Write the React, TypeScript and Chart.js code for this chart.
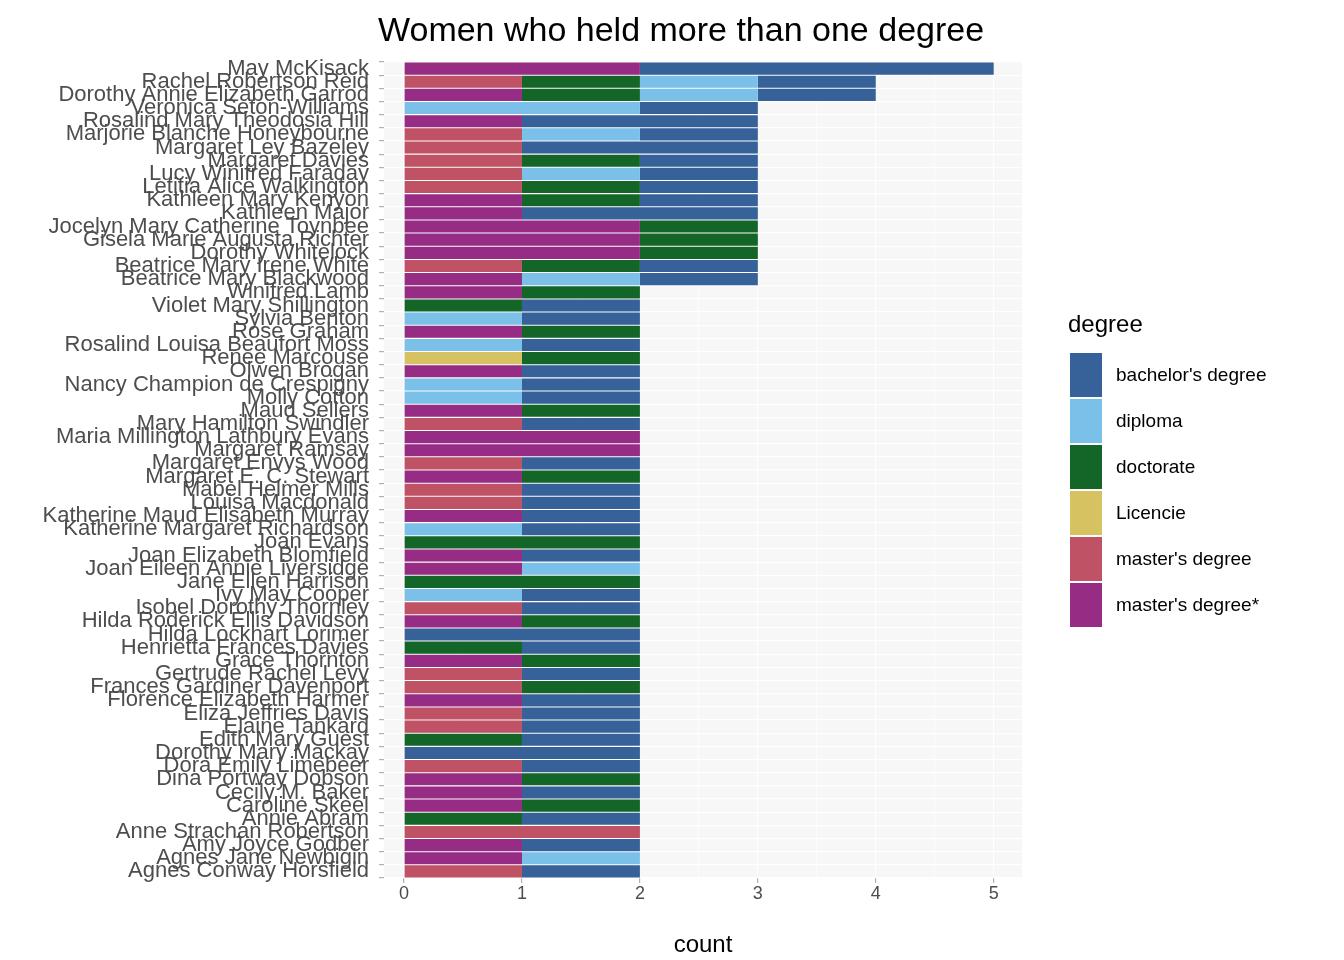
import { useEffect, useRef } from 'react';
import Chart from 'chart.js/auto';

const names = [
  'May McKisack', 'Rachel Robertson Reid', 'Dorothy Annie Elizabeth Garrod', 'Veronica Seton-Williams',
  'Rosalind Mary Theodosia Hill', 'Marjorie Blanche Honeybourne', 'Margaret Ley Bazeley', 'Margaret Davies',
  'Lucy Winifred Faraday', 'Letitia Alice Walkington', 'Kathleen Mary Kenyon', 'Kathleen Major',
  'Jocelyn Mary Catherine Toynbee', 'Gisela Marie Augusta Richter', 'Dorothy Whitelock', 'Beatrice Mary Irene White',
  'Beatrice Mary Blackwood', 'Winifred Lamb', 'Violet Mary Shillington', 'Sylvia Benton', 'Rose Graham',
  'Rosalind Louisa Beaufort Moss', 'Renee Marcouse', 'Olwen Brogan', 'Nancy Champion de Crespigny', 'Molly Cotton',
  'Maud Sellers', 'Mary Hamilton Swindler', 'Maria Millington Lathbury Evans', 'Margaret Ramsay',
  'Margaret Envys Wood', 'Margaret E. C. Stewart', 'Mabel Helmer Mills', 'Louisa Macdonald',
  'Katherine Maud Elisabeth Murray', 'Katherine Margaret Richardson', 'Joan Evans', 'Joan Elizabeth Blomfield',
  'Joan Eileen Annie Liversidge', 'Jane Ellen Harrison', 'Ivy May Cooper', 'Isobel Dorothy Thornley',
  'Hilda Roderick Ellis Davidson', 'Hilda Lockhart Lorimer', 'Henrietta Frances Davies', 'Grace Thornton',
  'Gertrude Rachel Levy', 'Frances Gardiner Davenport', 'Florence Elizabeth Harmer', 'Eliza Jeffries Davis',
  'Elaine Tankard', 'Edith Mary Guest', 'Dorothy Mary Mackay', 'Dora Emily Limebeer', 'Dina Portway Dobson',
  'Cecily M. Baker', 'Caroline Skeel', 'Annie Abram', 'Anne Strachan Robertson', 'Amy Joyce Godber',
  'Agnes Jane Newbigin', 'Agnes Conway Horsfield',
];

const mastersStar = [2,0,1,0,1,0,0,0,0,0,1,1,2,2,2,0,1,1,0,0,1,0,0,1,0,0,1,0,2,2,0,1,0,0,1,0,0,1,1,0,0,0,1,0,0,1,0,0,1,0,0,0,0,0,1,1,1,0,0,1,1,0];
const masters =     [0,1,0,0,0,1,1,1,1,1,0,0,0,0,0,1,0,0,0,0,0,0,0,0,0,0,0,1,0,0,1,0,1,1,0,0,0,0,0,0,0,1,0,0,0,0,1,1,0,1,1,0,0,1,0,0,0,0,2,0,0,1];
const licencie =    [0,0,0,0,0,0,0,0,0,0,0,0,0,0,0,0,0,0,0,0,0,0,1,0,0,0,0,0,0,0,0,0,0,0,0,0,0,0,0,0,0,0,0,0,0,0,0,0,0,0,0,0,0,0,0,0,0,0,0,0,0,0];
const doctorate =   [0,1,1,0,0,0,0,1,0,1,1,0,1,1,1,1,0,1,1,0,1,0,1,0,0,0,1,0,0,0,0,1,0,0,0,0,2,0,0,2,0,0,1,0,1,1,0,1,0,0,0,1,0,0,1,0,1,1,0,0,0,0];
const diploma =     [0,1,1,2,0,1,0,0,1,0,0,0,0,0,0,0,1,0,0,1,0,1,0,0,1,1,0,0,0,0,0,0,0,0,0,1,0,0,1,0,1,0,0,0,0,0,0,0,0,0,0,0,0,0,0,0,0,0,0,0,1,0];
const bachelors =   [3,1,1,1,2,1,2,1,1,1,1,2,0,0,0,1,1,0,1,1,0,1,0,1,1,1,0,1,0,0,1,0,1,1,1,1,0,1,0,0,1,1,0,2,1,0,1,0,1,1,1,1,2,1,0,1,0,1,0,1,0,1];

const xTicks = [0, 1, 2, 3, 4, 5];

const legendItems = [
  { label: "bachelor's degree", color: '#366299' },
  { label: 'diploma', color: '#7bc0e9' },
  { label: 'doctorate', color: '#146628' },
  { label: 'Licencie', color: '#d7c262' },
  { label: "master's degree", color: '#bf5264' },
  { label: "master's degree*", color: '#972c85' },
];

const FONT = '"Liberation Sans", Arial, sans-serif';

export default function App() {
  const canvasRef = useRef<HTMLCanvasElement | null>(null);

  useEffect(() => {
    if (!canvasRef.current) return;
    const ctx = canvasRef.current.getContext('2d');
    if (!ctx) return;

    const panelBg = {
      id: 'panelBg',
      beforeDraw(chart: any) {
        const { ctx, chartArea } = chart;
        ctx.save();
        ctx.fillStyle = '#f7f7f7';
        ctx.fillRect(chartArea.left, chartArea.top, chartArea.right - chartArea.left, chartArea.bottom - chartArea.top);
        ctx.restore();
      },
      afterDraw(chart: any) {
        const { ctx, chartArea } = chart;
        ctx.save();
        ctx.fillStyle = '#000';
        ctx.font = `34px ${FONT}`;
        ctx.textBaseline = 'alphabetic';
        ctx.textAlign = 'left';
        ctx.fillText('Women who held more than one degree', chartArea.left - 6, 41);
        ctx.restore();
      },
    };

    const col = (label: string) => legendItems.find((l) => l.label === label)!.color;

    const chart = new Chart(ctx, {
      type: 'bar',
      data: {
        labels: names,
        datasets: [
          { label: "master's degree*", data: mastersStar, backgroundColor: col("master's degree*") },
          { label: "master's degree", data: masters, backgroundColor: col("master's degree") },
          { label: 'Licencie', data: licencie, backgroundColor: col('Licencie') },
          { label: 'doctorate', data: doctorate, backgroundColor: col('doctorate') },
          { label: 'diploma', data: diploma, backgroundColor: col('diploma') },
          { label: "bachelor's degree", data: bachelors, backgroundColor: col("bachelor's degree") },
        ],
      },
      options: {
        indexAxis: 'y',
        animation: false,
        responsive: false,
        layout: { padding: { top: 62, right: 322, left: 0, bottom: 0 } },
        datasets: { bar: { categoryPercentage: 0.92, barPercentage: 1, borderWidth: 0, borderSkipped: false } },
        plugins: { legend: { display: false }, tooltip: { enabled: false } },
        scales: {
          x: {
            stacked: true,
            min: -0.17,
            max: 5.24,
            afterBuildTicks: (scale: any) => {
              const t: any[] = [];
              xTicks.forEach((v) => { t.push({ value: v }); if (v < 5) t.push({ value: v + 0.5 }); });
              scale.ticks = t;
            },
            afterFit: (scale: any) => { scale.height = 82; },
            border: { display: false },
            grid: {
              color: '#ffffff',
              lineWidth: (c: any) => (Number.isInteger(c.tick?.value) ? 1.2 : 0.6),
              tickLength: 5,
              tickColor: (c: any) => (Number.isInteger(c.tick?.value) ? '#b0b0b0' : 'rgba(0,0,0,0)'),
            },
            ticks: {
              color: '#4d4d4d',
              font: { family: FONT, size: 18 },
              padding: 0,
              autoSkip: false,
              maxRotation: 0,
              callback: (v: any) => (Number.isInteger(v) ? String(v) : ''),
            },
            title: { display: true, text: 'count', color: '#000', font: { family: FONT, size: 24 }, padding: { top: 4, bottom: 0 } },
          },
          y: {
            stacked: true,
            afterFit: (scale: any) => { scale.width = 384; },
            border: { display: false },
            grid: { color: '#ffffff', lineWidth: 1.2, tickLength: 5, tickColor: '#b0b0b0' },
            ticks: { color: '#4d4d4d', font: { family: FONT, size: 22 }, padding: 10, autoSkip: false },
          },
        },
      },
      plugins: [panelBg],
    });

    return () => chart.destroy();
  }, []);

  return (
    <div style={{ position: 'fixed', left: 0, top: 0, width: 1344, height: 960, background: '#fff', fontFamily: FONT }}>
      <canvas ref={canvasRef} width={1344} height={960} style={{ width: 1344, height: 960 }} />
      <div style={{ position: 'absolute', left: 1068, top: 310, fontSize: 24, color: '#000' }}>degree</div>
      {legendItems.map((l, i) => (
        <div key={l.label} style={{ position: 'absolute', left: 1070, top: 353 + i * 46, display: 'flex', alignItems: 'center' }}>
          <div style={{ width: 32, height: 44, background: l.color }} />
          <span style={{ marginLeft: 14, fontSize: 19, color: '#000' }}>{l.label}</span>
        </div>
      ))}
    </div>
  );
}
